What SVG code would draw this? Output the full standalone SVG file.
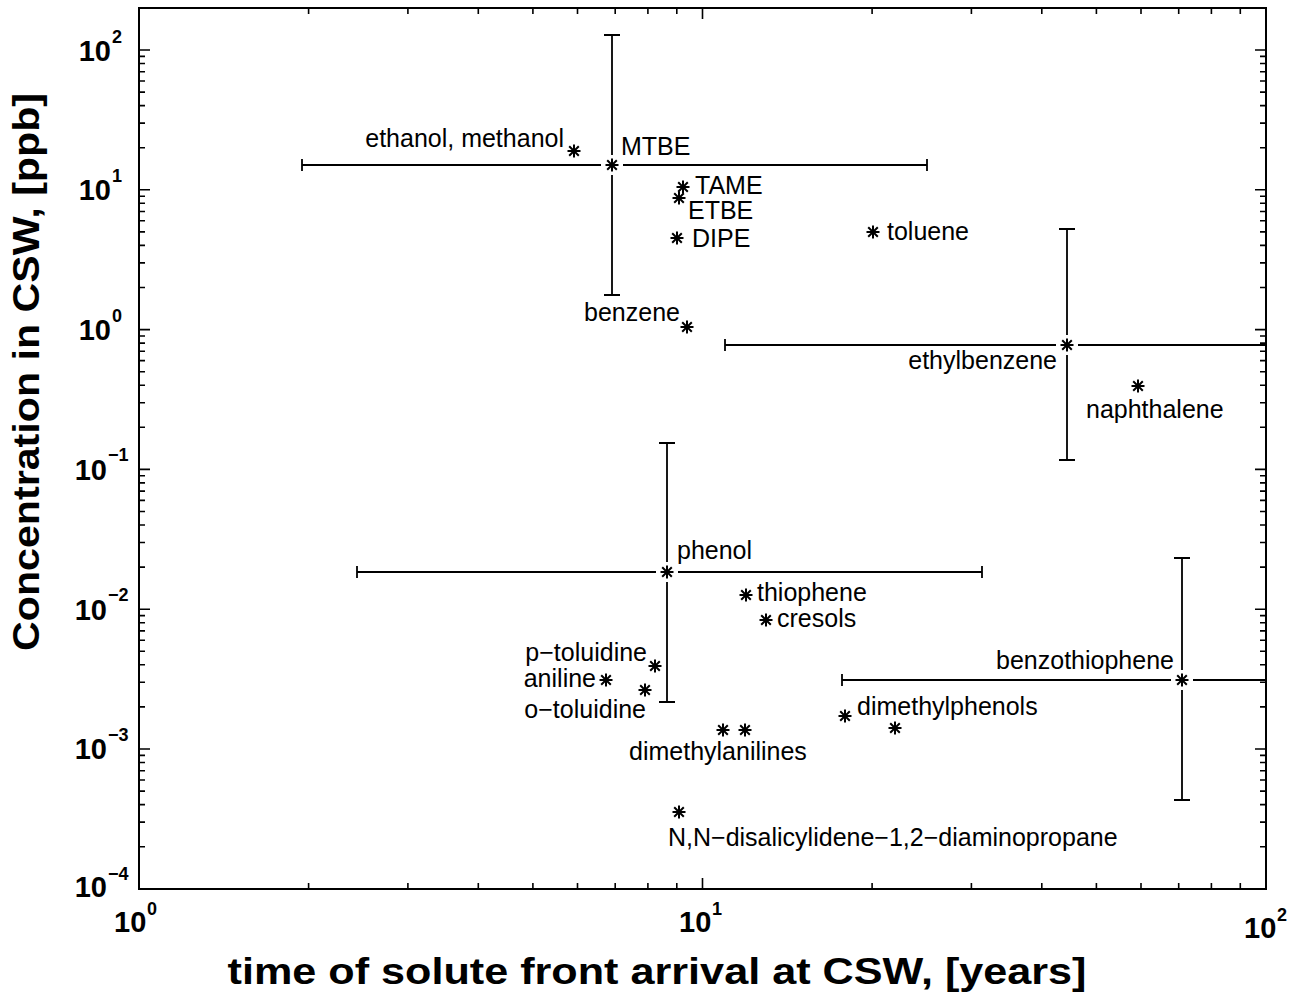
<svg xmlns="http://www.w3.org/2000/svg" xmlns:xlink="http://www.w3.org/1999/xlink" width="1297" height="993" viewBox="0 0 1297 993">
<style>
.ax{fill:none;stroke:#000;stroke-width:2}
.tk{fill:none;stroke:#000;stroke-width:1.6}
.eb{fill:none;stroke:#000;stroke-width:1.8}
.mk{fill:none;stroke:#000;stroke-width:2}
.lb{font-family:"Liberation Sans",Arial,sans-serif;font-size:25px;fill:#000}
.tl{font-family:"Liberation Sans",Arial,sans-serif;font-weight:bold;font-size:29px;fill:#000}
.ex{font-family:"Liberation Sans",Arial,sans-serif;font-weight:bold;font-size:18px;fill:#000}
.al{font-family:"Liberation Sans",Arial,sans-serif;font-weight:bold;font-size:36px;fill:#000}
</style>
<defs>
<path id="ast" class="mk" d="M-6.5 0H6.5M0-6.5V6.5M-4.8-4.8L4.8 4.8M-4.8 4.8L4.8-4.8"/>
</defs>
<rect width="1297" height="993" fill="#fff"/>
<g id="axes">
<rect class="ax" x="139" y="8" width="1127" height="881"/>
<path class="tk" d="M139 50h11M139 189.8h11M139 329.6h11M139 469.4h11M139 609.2h11M139 749h11M1266 50h-11M1266 189.8h-11M1266 329.6h-11M1266 469.4h-11M1266 609.2h-11M1266 749h-11M702.5 889v-11M702.5 8v11"/>
<path class="tk" d="M139 147.7h6M139 123.1h6M139 105.6h6M139 92.1h6M139 81h6M139 71.7h6M139 63.5h6M139 56.4h6M139 287.5h6M139 262.9h6M139 245.4h6M139 231.9h6M139 220.8h6M139 211.5h6M139 203.3h6M139 196.2h6M139 427.3h6M139 402.7h6M139 385.2h6M139 371.7h6M139 360.6h6M139 351.3h6M139 343.1h6M139 336h6M139 567.1h6M139 542.5h6M139 525h6M139 511.5h6M139 500.4h6M139 491.1h6M139 482.9h6M139 475.8h6M139 706.9h6M139 682.3h6M139 664.8h6M139 651.3h6M139 640.2h6M139 630.9h6M139 622.7h6M139 615.6h6M139 846.7h6M139 822.1h6M139 804.6h6M139 791.1h6M139 780h6M139 770.7h6M139 762.5h6M139 755.4h6"/>
<path class="tk" d="M1266 147.7h-6M1266 123.1h-6M1266 105.6h-6M1266 92.1h-6M1266 81h-6M1266 71.7h-6M1266 63.5h-6M1266 56.4h-6M1266 287.5h-6M1266 262.9h-6M1266 245.4h-6M1266 231.9h-6M1266 220.8h-6M1266 211.5h-6M1266 203.3h-6M1266 196.2h-6M1266 427.3h-6M1266 402.7h-6M1266 385.2h-6M1266 371.7h-6M1266 360.6h-6M1266 351.3h-6M1266 343.1h-6M1266 336h-6M1266 567.1h-6M1266 542.5h-6M1266 525h-6M1266 511.5h-6M1266 500.4h-6M1266 491.1h-6M1266 482.9h-6M1266 475.8h-6M1266 706.9h-6M1266 682.3h-6M1266 664.8h-6M1266 651.3h-6M1266 640.2h-6M1266 630.9h-6M1266 622.7h-6M1266 615.6h-6M1266 846.7h-6M1266 822.1h-6M1266 804.6h-6M1266 791.1h-6M1266 780h-6M1266 770.7h-6M1266 762.5h-6M1266 755.4h-6"/>
<path class="tk" d="M308.6 889v-6M407.9 889v-6M478.3 889v-6M532.9 889v-6M577.5 889v-6M615.2 889v-6M647.9 889v-6M676.8 889v-6M872.1 889v-6M971.4 889v-6M1041.8 889v-6M1096.4 889v-6M1141 889v-6M1178.7 889v-6M1211.4 889v-6M1240.3 889v-6M308.6 8v6M407.9 8v6M478.3 8v6M532.9 8v6M577.5 8v6M615.2 8v6M647.9 8v6M676.8 8v6M872.1 8v6M971.4 8v6M1041.8 8v6M1096.4 8v6M1141 8v6M1178.7 8v6M1211.4 8v6M1240.3 8v6"/>
<g id="ytick-labels">
<text class="tl" x="111" y="61" text-anchor="end">10</text><text class="ex" x="112" y="43">2</text>
<text class="tl" x="111" y="200" text-anchor="end">10</text><text class="ex" x="112" y="182">1</text>
<text class="tl" x="111" y="340" text-anchor="end">10</text><text class="ex" x="112" y="322">0</text>
<text class="tl" x="107" y="480" text-anchor="end">10</text><text class="ex" x="108" y="461">−1</text>
<text class="tl" x="107" y="620" text-anchor="end">10</text><text class="ex" x="108" y="601">−2</text>
<text class="tl" x="107" y="759" text-anchor="end">10</text><text class="ex" x="108" y="741">−3</text>
<text class="tl" x="107" y="897" text-anchor="end">10</text><text class="ex" x="108" y="880">−4</text>
</g>
<g id="xtick-labels">
<text class="tl" x="114" y="932">10</text><text class="ex" x="147" y="915">0</text>
<text class="tl" x="679" y="932">10</text><text class="ex" x="712" y="915">1</text>
<text class="tl" x="1244" y="938">10</text><text class="ex" x="1277" y="921">2</text>
</g>
<text class="al" x="657" y="984" text-anchor="middle" textLength="859" lengthAdjust="spacingAndGlyphs">time of solute front arrival at CSW, [years]</text>
<text class="al" transform="translate(39 372) rotate(-90)" x="0" y="0" text-anchor="middle" textLength="558" lengthAdjust="spacingAndGlyphs">Concentration in CSW, [ppb]</text>
</g>
<g id="errorbars">
<path class="eb" d="M612 35V155M612 175V295M604 35H620M604 295H620M302 165H601M623 165H927M302 159V171M927 159V171"/>
<path class="eb" d="M1067 229V335M1067 355V460M1059 229H1075M1059 460H1075M725 345H1056M1078 345H1266M725 339V351"/>
<path class="eb" d="M667 443V562M667 582V702M659 443H675M659 702H675M357 572H656M678 572H982M357 566V578M982 566V578"/>
<path class="eb" d="M1182 558V670M1182 690V800M1174 558H1190M1174 800H1190M842 680H1171M1193 680H1266M842 674V686"/>
</g>
<g id="ethanol-methanol"><use xlink:href="#ast" x="574" y="151"/><text class="lb" x="564" y="147" text-anchor="end">ethanol, methanol</text></g>
<g id="MTBE"><use xlink:href="#ast" x="612" y="165"/><text class="lb" x="621" y="155">MTBE</text></g>
<g id="TAME"><use xlink:href="#ast" x="683" y="187"/><text class="lb" x="695" y="194">TAME</text></g>
<g id="ETBE"><use xlink:href="#ast" x="679" y="198"/><text class="lb" x="688" y="219">ETBE</text></g>
<g id="DIPE"><use xlink:href="#ast" x="677" y="238"/><text class="lb" x="692" y="247">DIPE</text></g>
<g id="toluene"><use xlink:href="#ast" x="873" y="232"/><text class="lb" x="887" y="240">toluene</text></g>
<g id="benzene"><use xlink:href="#ast" x="687" y="327"/><text class="lb" x="680" y="321" text-anchor="end">benzene</text></g>
<g id="ethylbenzene"><use xlink:href="#ast" x="1067" y="345"/><text class="lb" x="1057" y="369" text-anchor="end">ethylbenzene</text></g>
<g id="naphthalene"><use xlink:href="#ast" x="1138" y="386"/><text class="lb" x="1086" y="418">naphthalene</text></g>
<g id="phenol"><use xlink:href="#ast" x="667" y="572"/><text class="lb" x="677" y="559">phenol</text></g>
<g id="thiophene"><use xlink:href="#ast" x="746" y="595"/><text class="lb" x="757" y="601">thiophene</text></g>
<g id="cresols"><use xlink:href="#ast" x="766" y="620"/><text class="lb" x="777" y="627">cresols</text></g>
<g id="p-toluidine"><use xlink:href="#ast" x="655" y="666"/><text class="lb" x="647" y="661" text-anchor="end">p−toluidine</text></g>
<g id="aniline"><use xlink:href="#ast" x="606" y="680"/><text class="lb" x="596" y="687" text-anchor="end">aniline</text></g>
<g id="o-toluidine"><use xlink:href="#ast" x="645" y="690"/><text class="lb" x="646" y="718" text-anchor="end">o−toluidine</text></g>
<g id="dimethylanilines"><use xlink:href="#ast" x="723" y="730"/><use xlink:href="#ast" x="745" y="730"/><text class="lb" x="629" y="760">dimethylanilines</text></g>
<g id="dimethylphenols"><use xlink:href="#ast" x="845" y="716"/><use xlink:href="#ast" x="895" y="728"/><text class="lb" x="857" y="715">dimethylphenols</text></g>
<g id="benzothiophene"><use xlink:href="#ast" x="1182" y="680"/><text class="lb" x="1174" y="669" text-anchor="end">benzothiophene</text></g>
<g id="diaminopropane"><use xlink:href="#ast" x="679" y="812"/><text class="lb" x="668" y="846">N,N−disalicylidene−1,2−diaminopropane</text></g>
</svg>
